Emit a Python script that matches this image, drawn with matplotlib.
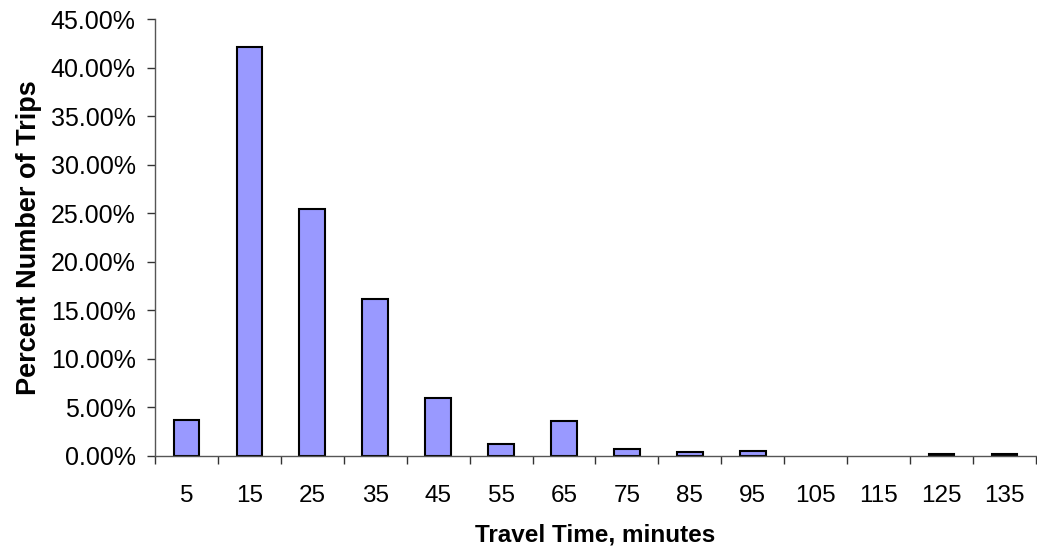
import numpy as np
import matplotlib
matplotlib.use("Agg")
import matplotlib.pyplot as plt
from matplotlib.ticker import FuncFormatter

plt.rcParams["font.family"] = ["Liberation Sans", "DejaVu Sans"]

# data
categorias = ["5", "15", "25", "35", "45", "55", "65", "75", "85", "95", "105", "115", "125", "135"]
percentuais = [3.74, 42.15, 25.4, 16.2, 5.94, 1.2, 3.57, 0.7, 0.38, 0.55, 0.0, 0.0, 0.22, 0.2]

fig = plt.figure(figsize=(10.37, 5.56), dpi=100)
ax = fig.add_axes([0.1495, 0.18, 0.8495, 0.7858])

x = np.arange(len(categorias))
# bars with zero value get no outline (nothing visible in the original)
larguras_borda = [1.5 if v > 0 else 0 for v in percentuais]
ax.bar(x, percentuais, width=0.41, color="#9999ff", edgecolor="black", linewidth=larguras_borda)

ax.set_xlim(-0.5, len(categorias) - 0.5)
ax.set_ylim(0, 45)
ax.set_yticks(np.arange(0, 46, 5))
ax.yaxis.set_major_formatter(FuncFormatter(lambda v, p: f"{v:.2f}%"))

ax.set_xticks(x)
ax.set_xticklabels(categorias)
ax.set_xticks(np.arange(-0.5, len(categorias), 1), minor=True)
ax.tick_params(axis="x", which="major", length=0, pad=21, labelsize=17.5)
ax.tick_params(axis="x", which="minor", length=6, width=1, color="#333333", direction="out")
ax.tick_params(axis="y", length=6, width=1, color="#333333", pad=8, labelsize=18)

for s in ["top", "right"]:
    ax.spines[s].set_visible(False)
for s in ["left", "bottom"]:
    ax.spines[s].set_color("#555555")
    ax.spines[s].set_linewidth(1)

ax.set_xlabel("Travel Time, minutes", fontsize=17.5, fontweight="bold", labelpad=12)
ax.set_ylabel("Percent Number of Trips", fontsize=19.5, fontweight="bold")
ax.yaxis.set_label_coords(-0.128, 0.5)

fig.savefig("out.png", dpi=100)
